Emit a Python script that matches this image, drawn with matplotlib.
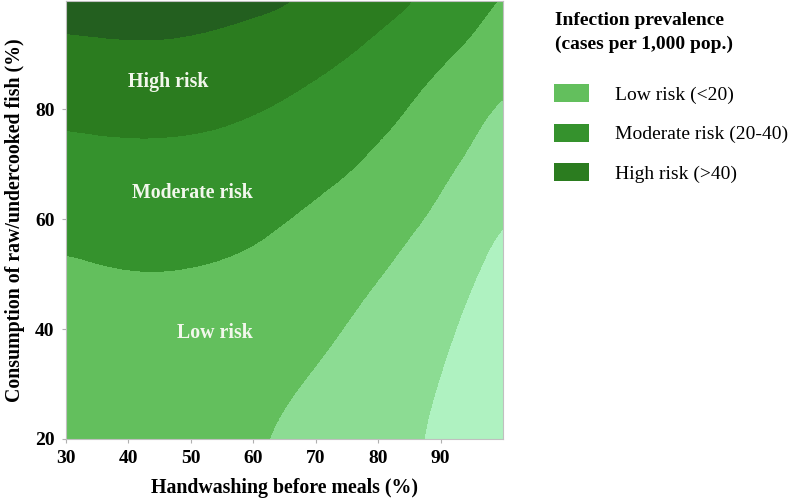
import numpy as np
import matplotlib.pyplot as plt
from matplotlib.colors import ListedColormap, BoundaryNorm
from matplotlib.patches import Patch

# ---------------------------------------------
# Data (risk band score grid)
# ---------------------------------------------
handwashing = [30, 35, 40, 45, 50, 55, 60, 65, 70, 75, 80, 85, 90, 95, 100]
raw_fish = [20, 30, 40, 50, 60, 70, 80, 90, 100]

# one row per raw_fish value, one column per handwashing value
risk_score = [
    [2.35, 2.37, 2.37, 2.35, 2.30, 2.20, 2.07, 1.86, 1.60, 1.35, 1.25, 1.15, 0.775, 0.25, 0.05],
    [2.50, 2.53, 2.54, 2.53, 2.48, 2.40, 2.32, 2.12, 1.90, 1.65, 1.45, 1.36, 0.956, 0.48, 0.15],
    [2.65, 2.70, 2.72, 2.72, 2.68, 2.62, 2.52, 2.40, 2.22, 1.962, 1.702, 1.56, 1.247, 0.715, 0.30],
    [2.824, 2.897, 2.942, 2.955, 2.928, 2.874, 2.775, 2.65, 2.55, 2.282, 2.022, 1.763, 1.54, 1.095, 0.57],
    [3.275, 3.347, 3.392, 3.405, 3.378, 3.324, 3.225, 3.01, 2.848, 2.649, 2.42, 2.10, 1.84, 1.48, 0.98],
    [3.685, 3.735, 3.76, 3.76, 3.73, 3.67, 3.55, 3.45, 3.248, 3.099, 2.816, 2.60, 2.144, 1.874, 1.45],
    [4.185, 4.235, 4.26, 4.26, 4.23, 4.17, 4.05, 3.90, 3.725, 3.52, 3.266, 2.955, 2.645, 2.20, 1.84],
    [4.785, 4.826, 4.855, 4.855, 4.809, 4.733, 4.606, 4.42, 4.225, 4.02, 3.76, 3.405, 3.095, 2.82, 2.30],
    [5.365, 5.406, 5.435, 5.435, 5.389, 5.313, 5.25, 5.20, 4.95, 4.62, 4.35, 4.20, 3.78, 3.38, 3.02],
]

band_levels = [-1, 1, 2, 3, 4, 5, 7]
band_colors = ['#aff2c1', '#8cdc93', '#63bf5d', '#35922d', '#2b7c1f', '#235f1f']

region_labels = ['High risk', 'Moderate risk', 'Low risk']
region_x = [46.4, 50.2, 53.8]
region_y = [85.0, 64.8, 39.3]

legend_title = 'Infection prevalence\n(cases per 1,000 pop.)'
legend_labels = ['Low risk (<20)', 'Moderate risk (20-40)', 'High risk (>40)']
legend_colors = ['#63bf5d', '#35922d', '#2b7c1f']

x_ticks = [30, 40, 50, 60, 70, 80, 90]
y_ticks = [20, 40, 60, 80]

plt.rcParams['font.family'] = ['Liberation Serif', 'DejaVu Serif']

fig = plt.figure(figsize=(7.89, 4.98), dpi=100)
ax = fig.add_axes([0.0833, 0.1185, 0.5542, 0.8795])

# smooth filled bands: grid resampled by the image renderer, coloured by band
cmap = ListedColormap(band_colors)
norm = BoundaryNorm(band_levels, cmap.N)
dx = (handwashing[1] - handwashing[0]) / 2
dy = (raw_fish[1] - raw_fish[0]) / 2
ax.imshow(np.array(risk_score), origin='lower', cmap=cmap, norm=norm,
          extent=[handwashing[0] - dx, handwashing[-1] + dx, raw_fish[0] - dy, raw_fish[-1] + dy],
          interpolation='bicubic', interpolation_stage='data', aspect='auto')

# labels on the regions
for lab, lx, ly in zip(region_labels, region_x, region_y):
    ax.text(lx, ly, lab, color='#f2f7ec', fontsize=14.3, fontweight='bold',
            ha='center', va='center')

ax.set_xlim(30, 100)
ax.set_ylim(20, 99.7)
ax.set_xticks(x_ticks)
ax.set_yticks(y_ticks)
ax.tick_params(direction='out', length=3, width=0.8, color='#b0b0b0',
               labelsize=14, pad=5)
for lab in ax.get_xticklabels() + ax.get_yticklabels():
    lab.set_fontweight('bold')
for sp in ax.spines.values():
    sp.set_color('#c0c0c0')
    sp.set_linewidth(0.8)

ax.set_xlabel('Handwashing before meals (%)', fontsize=14.3, fontweight='bold', labelpad=8)
ax.set_ylabel('Consumption of raw/undercooked fish (%)', fontsize=14.3, fontweight='bold', labelpad=7)

# legend: title as its own text, then the swatches
fig.text(0.703, 0.976, legend_title, fontsize=14, fontweight='bold',
         ha='left', va='top', linespacing=1.5)
handles = [Patch(facecolor=c, edgecolor='none') for c in legend_colors]
ax.legend(handles, legend_labels, loc='upper left',
          bbox_to_anchor=(0.702, 0.831), bbox_transform=fig.transFigure,
          fontsize=14, frameon=False, borderpad=0, borderaxespad=0,
          handlelength=1.8, handleheight=1.03, handletextpad=1.34,
          labelspacing=1.03)

fig.savefig('out.png', dpi=100)
